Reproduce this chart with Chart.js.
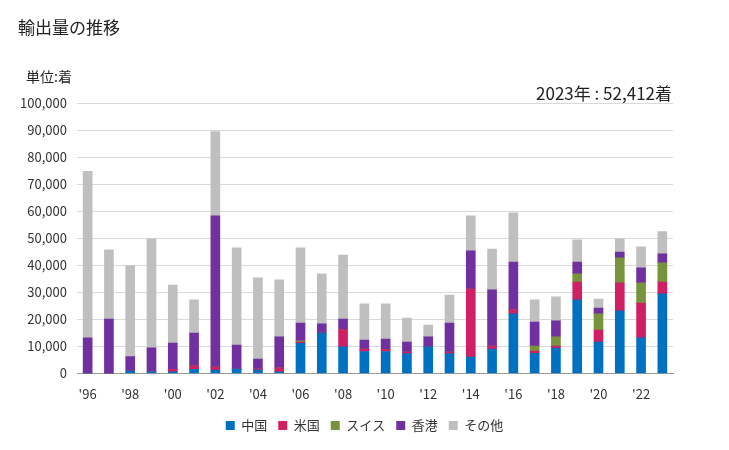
<!DOCTYPE html>
<html>
<head>
<meta charset="utf-8">
<script src="https://cdn.jsdelivr.net/npm/chart.js@4.4.1/dist/chart.umd.min.js"></script>
<style>
  body { margin: 0; background: #fff; font-family: "Noto Sans CJK JP", sans-serif; }
  #wrap { position: relative; width: 729px; height: 450px; }
  .txt { position: absolute; color: #222; white-space: nowrap; }
  #title { left: 18px; top: 14px; font-size: 17px; }
  #unit { left: 26px; top: 66px; font-size: 14px; }
  #note { right: 57px; top: 80px; font-size: 17px; }
</style>
</head>
<body>
<div id="wrap">
  <canvas id="chart" width="729" height="450"></canvas>
  <div class="txt" id="title">輸出量の推移</div>
  <div class="txt" id="unit">単位:着</div>
  <div class="txt" id="note">2023年 : 52,412着</div>
</div>
<script>
// export volume by destination, 1996-2023 (unit: 着)
const years = ['96','97','98','99','00','01','02','03','04','05','06','07','08','09',
               '10','11','12','13','14','15','16','17','18','19','20','21','22','23'];

const china = [0, 0, 900, 600, 600, 1500, 1200, 1600, 1200, 600, 11100, 14900, 9800, 8100,
               8100, 7300, 9800, 7300, 6000, 9000, 22000, 7400, 9400, 27200, 11600, 23100, 13200, 29400];
const usa = [0, 0, 0, 0, 900, 1300, 1100, 0, 400, 1500, 500, 0, 6400, 900,
             700, 600, 0, 600, 25200, 1100, 1500, 900, 700, 6600, 4400, 10400, 12800, 4400];
const swiss = [0, 0, 0, 0, 0, 0, 0, 0, 0, 0, 400, 0, 0, 0,
               0, 0, 0, 0, 0, 0, 0, 1800, 3400, 3000, 6000, 9200, 7500, 7100];
const hongkong = [13200, 20100, 5300, 8900, 9700, 12100, 56000, 8900, 3700, 11400, 6600, 3400, 3900, 3300,
                  3900, 3700, 3700, 10700, 14100, 20800, 17700, 8900, 5900, 4400, 2200, 2200, 5500, 3300];
const others = [61500, 25600, 33700, 40300, 21500, 12300, 31100, 35900, 30000, 21100, 27800, 18500, 23700, 13400,
                13000, 8900, 4400, 10400, 13000, 15100, 18200, 8200, 8900, 8200, 3300, 4900, 7800, 8212];

const yTicks = [0, 10000, 20000, 30000, 40000, 50000, 60000, 70000, 80000, 90000, 100000];

const ctx = document.getElementById('chart').getContext('2d');
new Chart(ctx, {
    type: 'bar',
    data: {
        labels: years,
        datasets: [
            { label: '中国', data: china, backgroundColor: '#0070c0' },
            { label: '米国', data: usa, backgroundColor: '#d01f63' },
            { label: 'スイス', data: swiss, backgroundColor: '#77933c' },
            { label: '香港', data: hongkong, backgroundColor: '#7030a0' },
            { label: 'その他', data: others, backgroundColor: '#bfbfbf' }
        ]
    },
    options: {
        responsive: false,
        animation: false,
        layout: { padding: { top: 103, right: 0, left: 0, bottom: 8 } },
        datasets: { bar: { barThickness: 9 } },
        plugins: {
            legend: {
                position: 'bottom',
                labels: {
                    boxWidth: 9,
                    boxHeight: 9,
                    padding: 11,
                    color: '#333',
                    font: { family: '"Noto Sans CJK JP", sans-serif', size: 13 }
                }
            },
            tooltip: { enabled: false }
        },
        scales: {
            x: {
                stacked: true,
                afterFit: function(scale) { scale.height += 1; },
                grid: { display: false },
                border: { color: '#999' },
                ticks: {
                    autoSkip: false,
                    maxRotation: 0,
                    padding: 5,
                    color: '#333',
                    font: { family: '"Noto Sans CJK JP", sans-serif', size: 13 },
                    callback: function(v, i) { return i % 2 === 0 ? "'" + years[i] : ''; }
                }
            },
            y: {
                stacked: true,
                min: 0,
                max: 100000,
                afterFit: function(scale) { scale.width = 77; },
                afterBuildTicks: function(scale) { scale.ticks = yTicks.map(v => ({ value: v })); },
                grid: { color: '#d9d9d9', drawTicks: false },
                border: { display: false },
                ticks: {
                    padding: 10,
                    color: '#333',
                    font: { family: '"Noto Sans CJK JP", sans-serif', size: 13 },
                    callback: v => v.toLocaleString('en-US')
                }
            },
            // empty right-hand axis that only reserves space, so the legend stays centred on the page
            yRight: {
                position: 'right',
                min: 0,
                max: 100000,
                afterFit: function(scale) { scale.width = 56; },
                grid: { display: false },
                border: { display: false },
                ticks: { display: false }
            }
        }
    }
});
</script>
</body>
</html>
